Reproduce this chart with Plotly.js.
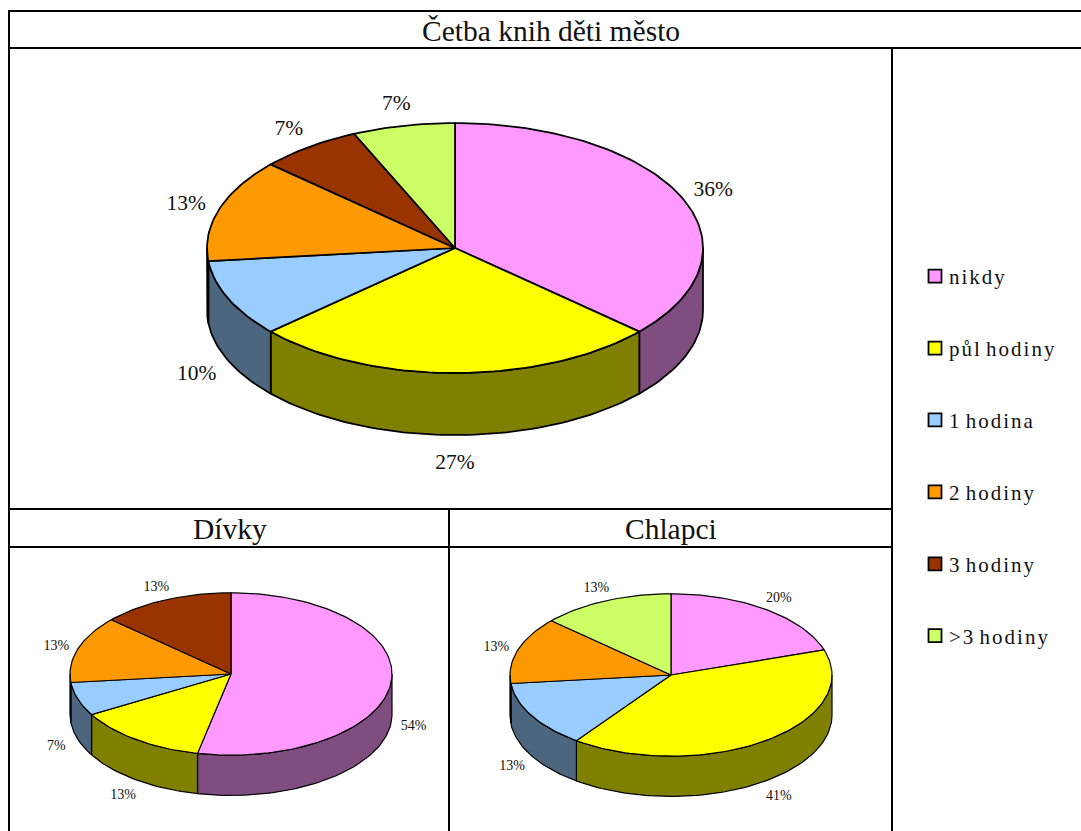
<!DOCTYPE html>
<html><head><meta charset="utf-8">
<script src="https://cdn.plot.ly/plotly-3.0.1.min.js"></script>
<style>
html,body{margin:0;padding:0;background:#fff;overflow:hidden}
#chart{width:1081px;height:831px}
.legendtext{letter-spacing:2px;word-spacing:-3px}
.legendpoints{transform:translateX(6px)}
</style></head><body><div id="chart"></div>
<script>
// ---- data ----
const categories = ['nikdy', 'půl hodiny', '1 hodina', '2 hodiny', '3 hodiny', '>3 hodiny'];
const topColors  = ['#FF99FF', '#FFFF00', '#99CCFF', '#FF9900', '#993300', '#CCFF66'];
const sideColors = ['#804D80', '#808000', '#4D6680', '#804D00', '#4D1A00', '#668033'];
const mestoValues   = [11, 8, 3, 4, 2, 2];
const mestoLabels   = ['36%', '27%', '10%', '13%', '7%', '7%'];
const divkyValues   = [8, 2, 1, 2, 2, 0];
const divkyLabels   = ['54%', '13%', '7%', '13%', '13%', ''];
const chlapciValues = [3, 6, 2, 2, 0, 2];
const chlapciLabels = ['20%', '41%', '13%', '13%', '', '13%'];
const mainTitle = 'Četba knih děti město';
const leftTitle = 'Dívky';
const rightTitle = 'Chlapci';

// ---- layout ----
const W = 1081, H = 831;
const FONT = '"Liberation Serif", serif';
const TILT = 0.504, DEPTH = 0.25, LABEL_KX = 1.14, LABEL_KY = 1.2, LABEL_DROP = 0.013;

function rad(d){ return d * Math.PI / 180; }
function rim(a, extra){ return [Math.sin(rad(a)), TILT * Math.cos(rad(a)) - (extra || 0)]; }
function arc(a0, a1, extra){
  const n = Math.max(2, Math.ceil(Math.abs(a1 - a0) / 1.5));
  const pts = [];
  for (let i = 0; i <= n; i++) pts.push(rim(a0 + (a1 - a0) * i / n, extra));
  return pts;
}

const traces = [];
const layout = {
  width: W, height: H, margin: {l: 0, r: 0, t: 0, b: 0},
  paper_bgcolor: '#fff', plot_bgcolor: 'rgba(0,0,0,0)',
  font: {family: FONT, color: '#000'},
  hovermode: false,
  legend: {x: 909 / W, y: 1 - 256 / H, xanchor: 'left', yanchor: 'top',
           font: {family: FONT, size: 21, color: '#111'},
           tracegroupgap: 41.6, itemwidth: 30, bgcolor: 'rgba(0,0,0,0)', borderwidth: 0},
  annotations: [], shapes: []
};

function addPie(idx, values, labels, box, cx, cy, rx, lw, labelSize){
  const suffix = idx === 1 ? '' : String(idx);
  const xa = 'x' + suffix, ya = 'y' + suffix;
  layout['xaxis' + suffix] = {domain: [box.l / W, box.r / W], range: [(box.l - cx) / rx, (box.r - cx) / rx],
    visible: false, fixedrange: true};
  layout['yaxis' + suffix] = {domain: [1 - box.b / H, 1 - box.t / H], range: [(cy - box.b) / rx, (cy - box.t) / rx],
    visible: false, fixedrange: true};
  const total = values.reduce((a, b) => a + b, 0);
  const line = {color: '#000', width: lw};
  const slices = [];
  let acc = 0;
  values.forEach((v, i) => {
    const a0 = acc / total * 360; acc += v;
    const a1 = acc / total * 360;
    if (v > 0) slices.push({i, a0, a1});
  });
  // side walls (front half only)
  slices.forEach(s => {
    const p0 = Math.max(s.a0, 90), p1 = Math.min(s.a1, 270);
    if (p1 <= p0) return;
    const pts = arc(p0, p1).concat(arc(p1, p0, DEPTH));
    pts.push(pts[0]);
    traces.push({type: 'scatter', mode: 'lines', xaxis: xa, yaxis: ya, fill: 'toself',
      fillcolor: sideColors[s.i], line, x: pts.map(p => p[0]), y: pts.map(p => p[1]),
      showlegend: false, hoverinfo: 'skip'});
  });
  // top wedges
  slices.forEach(s => {
    const pts = [[0, 0]].concat(arc(s.a0, s.a1));
    pts.push([0, 0]);
    traces.push({type: 'scatter', mode: 'lines', xaxis: xa, yaxis: ya, fill: 'toself',
      fillcolor: topColors[s.i], line, x: pts.map(p => p[0]), y: pts.map(p => p[1]),
      showlegend: false, hoverinfo: 'skip'});
  });
  // percentage labels
  const lx = [], ly = [], lt = [];
  slices.forEach(s => {
    const m = (s.a0 + s.a1) / 2;
    const c = Math.cos(rad(m));
    lx.push(LABEL_KX * Math.sin(rad(m)));
    ly.push(LABEL_KY * TILT * c - (c < 0 ? DEPTH : 0) - LABEL_DROP);
    lt.push(labels[s.i]);
  });
  traces.push({type: 'scatter', mode: 'text', xaxis: xa, yaxis: ya, x: lx, y: ly, text: lt,
    textposition: 'middle center', textfont: {family: FONT, size: labelSize, color: '#111'},
    showlegend: false, hoverinfo: 'skip', cliponaxis: false});
}

addPie(1, mestoValues,   mestoLabels,   {l: 11, r: 891, t: 49,  b: 508}, 455, 248, 248, 1.75, 21.5);
addPie(2, divkyValues,   divkyLabels,   {l: 11, r: 448, t: 548, b: 831}, 231, 674, 161, 1.2, 14);
addPie(3, chlapciValues, chlapciLabels, {l: 451, r: 891, t: 548, b: 831}, 671, 675, 161, 1.2, 14);

// legend entries
categories.forEach((c, i) => {
  traces.push({type: 'scatter', mode: 'markers', x: [null], y: [null], name: c, legendgroup: c,
    marker: {symbol: 'square', size: 13, color: topColors[i], line: {color: '#000', width: 1.75}},
    showlegend: true, hoverinfo: 'skip'});
});

// table grid
function rule(x0, y0, x1, y1){
  layout.shapes.push({type: 'line', xref: 'paper', yref: 'paper', x0: x0 / W, x1: x1 / W,
    y0: 1 - y0 / H, y1: 1 - y1 / H, line: {color: '#000', width: 2}, layer: 'above'});
}
rule(9, 11, W, 11);
rule(9, 48, W, 48);
rule(9, 10, 9, H);
rule(892, 48, 892, H);
rule(9, 509, 892, 509);
rule(9, 547, 892, 547);
rule(449, 509, 449, H);

function heading(text, x, y, size){
  layout.annotations.push({text, x: x / W, y: 1 - y / H, xref: 'paper', yref: 'paper', showarrow: false,
    xanchor: 'center', yanchor: 'middle', font: {family: FONT, size, color: '#111'}});
}
heading(mainTitle, 551, 31, 29.5);
heading(leftTitle, 230, 529, 29.5);
heading(rightTitle, 671, 529, 29.5);

Plotly.newPlot('chart', traces, layout, {displayModeBar: false, staticPlot: true});
</script></body></html>
